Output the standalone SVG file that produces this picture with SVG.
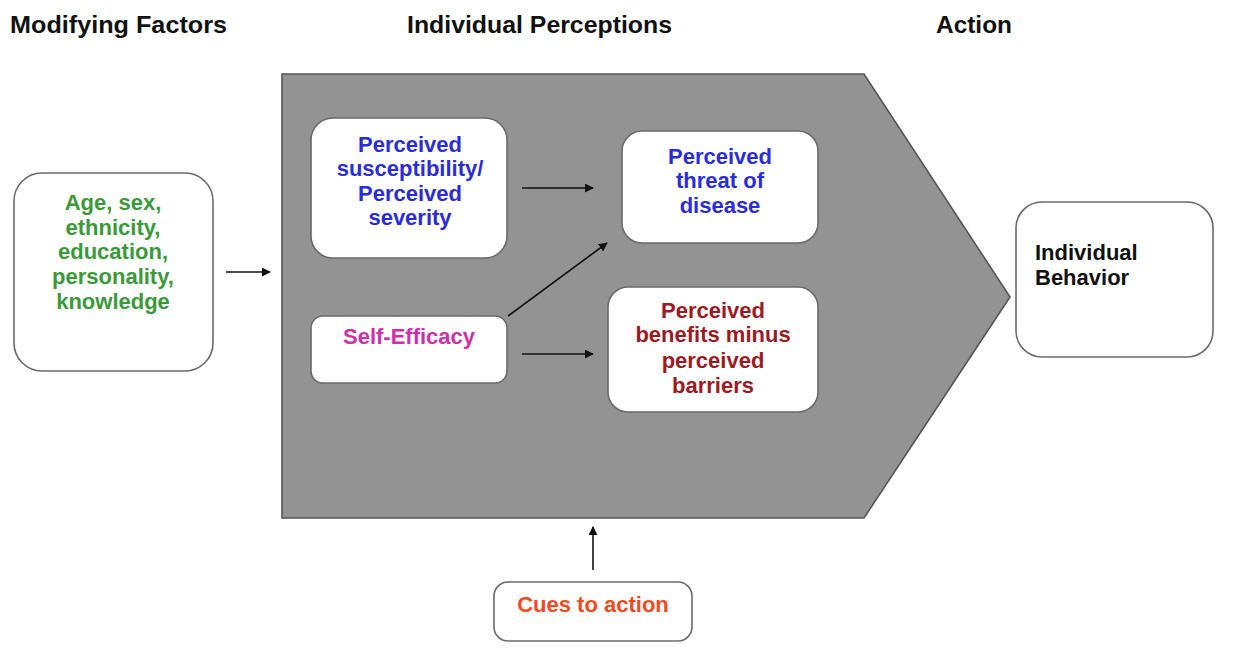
<svg xmlns="http://www.w3.org/2000/svg" width="1234" height="658" viewBox="0 0 1234 658">
<style>
.hdr{font-family:"Liberation Sans",Arial,sans-serif;font-weight:bold;font-size:24px;fill:#111}
.t{font-family:"Liberation Sans",Arial,sans-serif;font-weight:bold;font-size:22px;text-anchor:middle}
.box{fill:#fff;stroke:#6a6a6a;stroke-width:1.6}
.con{stroke:#111;stroke-width:1.6;fill:none;marker-end:url(#ah)}
</style>
<defs>
<marker id="ah" viewBox="0 0 10 10" refX="9" refY="5" markerWidth="9" markerHeight="9" markerUnits="userSpaceOnUse" orient="auto">
<path d="M0,0 L10,5 L0,10 z" fill="#111"/>
</marker>
</defs>
<rect width="1234" height="658" fill="#fff"/>
<g id="headers">
<text class="hdr" x="10" y="33" textLength="217" lengthAdjust="spacingAndGlyphs">Modifying Factors</text>
<text class="hdr" x="407" y="33" textLength="265" lengthAdjust="spacingAndGlyphs">Individual Perceptions</text>
<text class="hdr" x="936" y="33" textLength="76" lengthAdjust="spacingAndGlyphs">Action</text>
</g>
<g id="perceptions-arrow">
<polygon points="282,74 864,74 1010,297 864,518 282,518" fill="#939393" stroke="#555" stroke-width="1.6"/>
</g>
<g id="modifying">
<rect class="box" x="14" y="173" width="199" height="198" rx="28"/>
<g class="t" fill="#3a9a3a">
<text x="113" y="210">Age, sex,</text>
<text x="113" y="235">ethnicity,</text>
<text x="113" y="259">education,</text>
<text x="113" y="284">personality,</text>
<text x="113" y="309">knowledge</text>
</g>
</g>
<g id="susceptibility">
<rect class="box" x="311" y="118" width="196" height="140" rx="22"/>
<g class="t" fill="#2b2bde">
<text x="410" y="152">Perceived</text>
<text x="410" y="176">susceptibility/</text>
<text x="410" y="201">Perceived</text>
<text x="410" y="225">severity</text>
</g>
</g>
<g id="threat">
<rect class="box" x="622" y="131" width="196" height="112" rx="20"/>
<g class="t" fill="#2b2bde">
<text x="720" y="164">Perceived</text>
<text x="720" y="188">threat of</text>
<text x="720" y="213">disease</text>
</g>
</g>
<g id="selfefficacy">
<rect class="box" x="311" y="316" width="196" height="67" rx="12"/>
<text class="t" fill="#d12fa8" x="409" y="344">Self-Efficacy</text>
</g>
<g id="benefits">
<rect class="box" x="608" y="287" width="210" height="125" rx="20"/>
<g class="t" fill="#9e1a22">
<text x="713" y="318">Perceived</text>
<text x="713" y="342">benefits minus</text>
<text x="713" y="368">perceived</text>
<text x="713" y="393">barriers</text>
</g>
</g>
<g id="behavior">
<rect class="box" x="1016" y="202" width="197" height="155" rx="26"/>
<g class="t" fill="#111" style="text-anchor:start">
<text x="1035" y="260">Individual</text>
<text x="1035" y="285">Behavior</text>
</g>
</g>
<g id="cues">
<rect class="box" x="494" y="582" width="198" height="59" rx="14"/>
<text class="t" fill="#f04a1e" x="593" y="612">Cues to action</text>
</g>
<g id="connectors">
<line class="con" x1="226" y1="272" x2="270" y2="272"/>
<line class="con" x1="522" y1="188" x2="593" y2="188"/>
<line class="con" x1="522" y1="354" x2="593" y2="354"/>
<line class="con" x1="508" y1="316" x2="607" y2="243"/>
<line class="con" x1="593" y1="570" x2="593" y2="527"/>
</g>
</svg>
